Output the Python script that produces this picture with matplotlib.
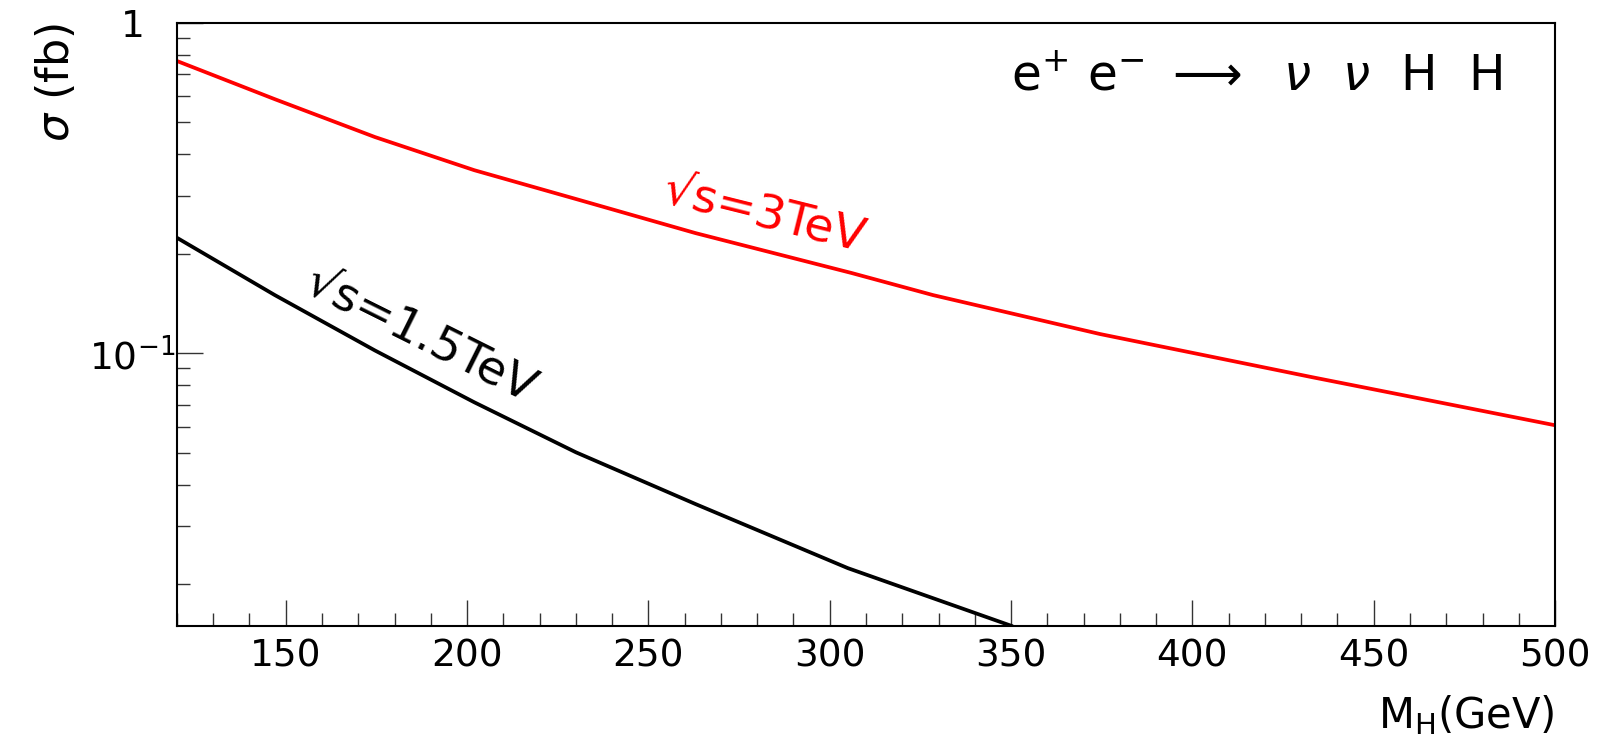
"""
Double Higgs production cross section e+e- -> nu nu H H vs Higgs mass
"""

import matplotlib.pyplot as plt
from matplotlib.ticker import FixedLocator, MultipleLocator, LogLocator, NullFormatter

# cross sections (fb) vs M_H (GeV) ------------------------------------------
mh_3tev = [120, 147, 174.6, 202, 230, 263, 306, 328.5, 374.5, 433, 500]
sigma_3tev = [0.766, 0.587, 0.451, 0.358, 0.293, 0.231, 0.175, 0.150, 0.1144,
              0.0847, 0.0606]

mh_15tev = [120, 147, 174.6, 202, 230, 263, 305, 350]
sigma_15tev = [0.2236, 0.150, 0.102, 0.0711, 0.0502, 0.0350, 0.0224, 0.0150]

xticks = [150, 200, 250, 300, 350, 400, 450, 500]
yticks = [0.1, 1]
ytick_labels = [r"$10^{-1}$", "1"]

plt.rcParams["mathtext.fontset"] = "dejavusans"

fig = plt.figure(figsize=(16, 7.45), dpi=100)
ax = fig.add_axes([0.1106, 0.1601, 0.8613, 0.8094])

ax.plot(mh_3tev, sigma_3tev, '-', color="#ff0000", lw=2.7)
ax.plot(mh_15tev, sigma_15tev, '-', color="black", lw=2.7)

ax.set_yscale("log")
ax.set_xlim(120, 500)
ax.set_ylim(0.015, 1)

# axis ticks
ax.xaxis.set_major_locator(FixedLocator(xticks))
ax.xaxis.set_minor_locator(MultipleLocator(10))
ax.yaxis.set_major_locator(FixedLocator(yticks))
ax.set_yticklabels(ytick_labels)
ax.yaxis.set_minor_locator(LogLocator(base=10, subs=range(2, 10)))
ax.yaxis.set_minor_formatter(NullFormatter())

ax.tick_params(which="both", direction="in", top=False, right=False,
               width=1.0, color="#333333")
ax.tick_params(which="major", length=18.5)
ax.tick_params(which="minor", length=9.5)
ax.tick_params(axis="x", labelsize=27, pad=9)
ax.tick_params(axis="y", labelsize=27, pad=32)
plt.setp(ax.get_yticklabels(), ha="center")

for sp in ax.spines.values():
    sp.set_linewidth(1.5)

ax.set_xlabel(r"M$_\mathrm{H}$(GeV)", fontsize=30, loc="right", labelpad=14)
ax.set_ylabel(r"$\sigma$ (fb)", fontsize=32, loc="top", labelpad=8)

# process label and curve labels
ax.text(0.962, 0.91,
        r"$\mathrm{e}^{+}\ \mathrm{e}^{-}\ \longrightarrow\ \ \nu\ \ \nu\ \ \mathrm{H}\ \ \mathrm{H}$",
        transform=ax.transAxes, ha="right", va="center", fontsize=35)
ax.text(282, 0.262, "\u221as=3TeV", color="#ff0000", fontsize=34,
        rotation=-14, rotation_mode="anchor", ha="center", va="center")
ax.text(187, 0.113, "\u221as=1.5TeV", color="black", fontsize=34,
        rotation=-26.5, rotation_mode="anchor", ha="center", va="center")

plt.savefig("out.png", dpi=100)
